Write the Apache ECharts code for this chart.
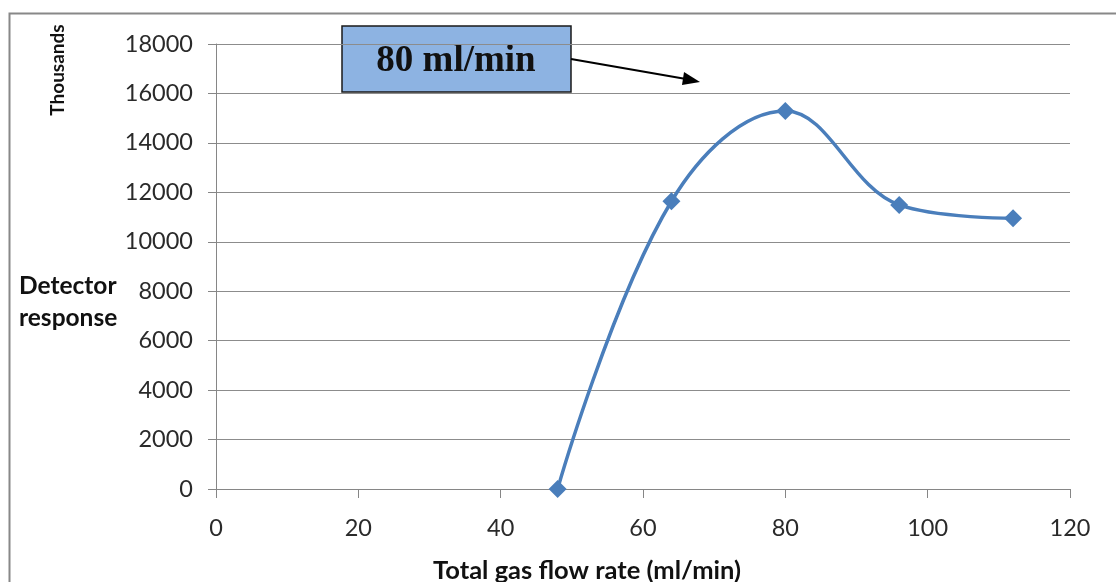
<!DOCTYPE html>
<html><head><meta charset="utf-8">
<script src="https://cdn.jsdelivr.net/npm/echarts@6/dist/echarts.min.js"></script>
<style>html,body{margin:0;padding:0;background:#fff}#c{width:1116px;height:582px}</style>
</head><body><div id="c"></div>
<script>
const flowRates = [48, 64, 80, 96, 112];
const responses = [0, 11640, 15290, 11490, 10950];
const xTicks = [0, 20, 40, 60, 80, 100, 120];
const yTicks = [0, 2000, 4000, 6000, 8000, 10000, 12000, 14000, 16000, 18000];
const xTitle = 'Total gas flow rate (ml/min)';
const yTitleLines = ['Detector', 'response'];
const unitLabel = 'Thousands';
const annotation = '80 ml/min';

const chart = echarts.init(document.getElementById('c'));
const font = 'Lato, "Open Sans", sans-serif';
function txt(text, x, y, size, weight, family, align, rot) {
  return { type: 'text', x: x, y: y, rotation: rot || 0,
    style: { text: text, fontSize: size, fontWeight: weight, fontFamily: family, fill: '#111', align: align, verticalAlign: 'middle' } };
}
chart.setOption({
  animation: false,
  grid: { left: 216, right: 46, top: 44, bottom: 93, containLabel: false },
  xAxis: {
    type: 'value', min: xTicks[0], max: xTicks[xTicks.length - 1], interval: 20,
    axisLine: { show: true, lineStyle: { color: '#868686', width: 1 } },
    axisTick: { show: true, length: 9, lineStyle: { color: '#868686' } },
    axisLabel: { color: '#2a2a2a', fontFamily: font, fontSize: 23.5, margin: 27, formatter: v => String(v) },
    splitLine: { show: false }
  },
  yAxis: {
    type: 'value', min: yTicks[0], max: yTicks[yTicks.length - 1], interval: 2000,
    axisLine: { show: true, lineStyle: { color: '#868686', width: 1 } },
    axisTick: { show: true, length: 8, lineStyle: { color: '#868686' } },
    axisLabel: { color: '#2a2a2a', fontFamily: font, fontSize: 23.5, margin: 23, formatter: v => String(v) },
    splitLine: { show: true, lineStyle: { color: '#8c8c8c', width: 1 } }
  },
  series: [{
    type: 'line',
    data: flowRates.map((x, i) => [x, responses[i]]),
    smooth: 0.38,
    symbol: 'diamond', symbolSize: 18,
    lineStyle: { color: '#4A7EBB', width: 3.5 },
    itemStyle: { color: '#4A7EBB' }
  }],
  graphic: [
    { type: 'rect', shape: { x: 9.5, y: 13.5, width: 1200, height: 700 }, style: { fill: 'none', stroke: '#888', lineWidth: 2 }, z: -1 },
    txt(unitLabel, 58, 70, 19, 'bold', font, 'center', Math.PI / 2),
    txt(yTitleLines[0], 19, 286, 24.5, 'bold', font, 'left'),
    txt(yTitleLines[1], 19, 318, 24.5, 'bold', font, 'left'),
    txt(xTitle, 587, 571, 25.5, 'bold', font, 'center'),
    { type: 'rect', shape: { x: 342, y: 26, width: 229, height: 66 }, style: { fill: '#8DB3E2', stroke: '#1a1a1a', lineWidth: 1.5 } },
    txt(annotation, 456, 61, 37, 'bold', '"Liberation Serif", "DejaVu Serif", serif', 'center'),
    { type: 'line', shape: { x1: 571, y1: 59, x2: 686, y2: 79 }, style: { stroke: '#000', lineWidth: 2 } },
    { type: 'polygon', shape: { points: [[700, 82], [684, 72], [682, 85]] }, style: { fill: '#000' } }
  ]
});
</script></body></html>
